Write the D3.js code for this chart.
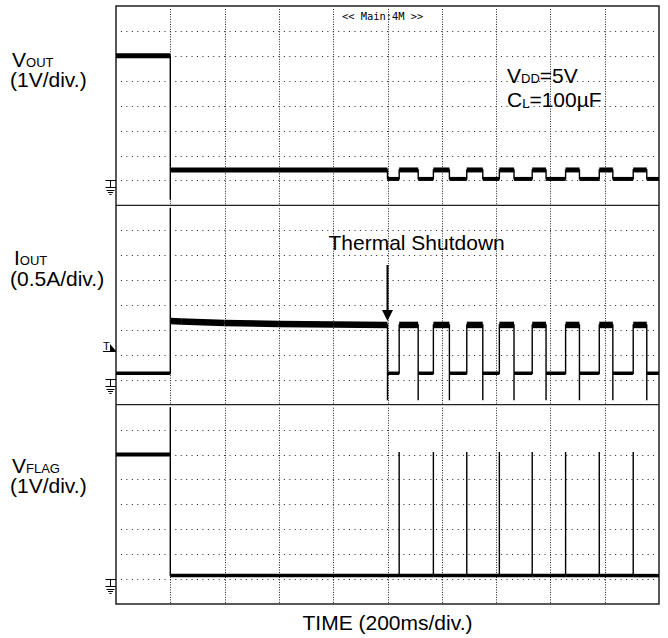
<!DOCTYPE html>
<html>
<head>
<meta charset="utf-8">
<script src="https://cdn.jsdelivr.net/npm/d3@7"></script>
<style>
  body { margin: 0; background: #fff; }
  svg { display: block; font-family: "Liberation Sans", Arial, sans-serif; }
</style>
</head>
<body>
<svg width="668" height="638"></svg>
<script>
// ---- data (read off the scope shot) -------------------------------------
// time axis: 10 div x 200ms
var timeTicks = d3.range(0, 2001, 200);
var tOn = 200, tShutdown = 1000, tEnd = 2000;
// thermal cycling edges after shutdown (ms)
var riseTimes = [1043, 1169, 1292, 1412, 1533, 1656, 1780, 1905];
var fallTimes = [1113, 1228, 1351, 1466, 1584, 1707, 1830, 1955];

// VOUT (V)
var voutHigh = 5.1, voutDip = -0.68, voutShort = 0.52, voutCycleOff = 0.16;
// IOUT (A)
var ioutIdle = 0.18, ioutPeak = 3.5, ioutUnder = -0.36, ioutCycleOn = 1.15;
var ioutShortT = [200, 240, 400, 600, 800, 1000];
var ioutShortV = [1.23, 1.22, 1.19, 1.17, 1.16, 1.15];
var ioutTrigger = 0.63;
// VFLAG (V)
var vflagHigh = 5.1, vflagPeak = 7.0, vflagLow = 0.24, vflagPulse = 5.2;

var labels = [
  { name: "V", sub: "OUT", unit: "(1V/div.)", perDiv: 1 },
  { name: "I", sub: "OUT", unit: "(0.5A/div.)", perDiv: 0.5 },
  { name: "V", sub: "FLAG", unit: "(1V/div.)", perDiv: 1 }
];

// ---- layout -------------------------------------------------------------
var svg = d3.select("svg"),
    left = 116, right = 659, plotTop = 6, plotBottom = 604,
    panelH = (plotBottom - plotTop) / 3, divY = panelH / 8,
    groundDiv = 7.1; // ground marker position, divs from panel top

var x = d3.scaleLinear().domain([0, tEnd]).range([left, right]);

var yScales = labels.map(function(p, i){
  var pt = plotTop + i*panelH;
  return d3.scaleLinear()
    .domain([-(8-groundDiv)*p.perDiv, groundDiv*p.perDiv])
    .range([pt + panelH, pt]);
});

// ---- traces -------------------------------------------------------------
var vout = [[0, voutHigh], [tOn, voutHigh], [tOn, voutDip], [tOn, voutShort],
            [tShutdown, voutShort], [tShutdown, voutCycleOff]];
riseTimes.forEach(function(t, i){
  vout.push([t, voutCycleOff], [t, voutShort], [fallTimes[i], voutShort], [fallTimes[i], voutCycleOff]);
});
vout.push([tEnd, voutCycleOff]);

var iout = [[0, ioutIdle], [tOn, ioutIdle], [tOn, ioutPeak]];
ioutShortT.forEach(function(t, i){ iout.push([t, ioutShortV[i]]); });
iout.push([tShutdown, ioutUnder], [tShutdown, ioutIdle]);
riseTimes.forEach(function(t, i){
  iout.push([t, ioutIdle], [t, ioutCycleOn], [fallTimes[i], ioutCycleOn], [fallTimes[i], ioutUnder], [fallTimes[i], ioutIdle]);
});
iout.push([tEnd, ioutIdle]);

var vflag = [[0, vflagHigh], [tOn, vflagHigh], [tOn, vflagPeak], [tOn, vflagLow]];
riseTimes.forEach(function(t){
  vflag.push([t, vflagLow], [t, vflagPulse], [t, vflagLow]);
});
vflag.push([tEnd, vflagLow]);

var traces = [
  { pts: vout,  hi: 5,   lo: 4,   split: 0.3 },
  { pts: iout,  hi: 6.5, lo: 3.5, split: 0.6 },
  { pts: vflag, hi: 4,   lo: 3.5, split: 2 }
];

// ---- grid ---------------------------------------------------------------
var grid = svg.append("g").attr("stroke", "#222").attr("stroke-width", 1);
labels.forEach(function(p, i){
  var pt = plotTop + i*panelH;
  d3.range(1, 8).forEach(function(k){
    var gy = Math.round(pt + k*divY) + 0.5;
    grid.append("line")
      .attr("x1", left + 5).attr("x2", right - 2)
      .attr("y1", gy).attr("y2", gy)
      .attr("stroke-dasharray", "1," + ((right-left)/100 - 1).toFixed(2));
  });
  timeTicks.slice(1, -1).forEach(function(t){
    var gx = Math.round(x(t)) + 0.5;
    grid.append("line")
      .attr("x1", gx).attr("x2", gx)
      .attr("y1", pt + 3).attr("y2", pt + panelH)
      .attr("stroke-dasharray", "1," + (divY/10 - 1).toFixed(2));
  });
});

// ---- frame --------------------------------------------------------------
var frame = svg.append("g").attr("stroke", "#222").attr("fill", "none");
frame.append("rect").attr("x", left).attr("y", plotTop)
  .attr("width", right - left).attr("height", plotBottom - plotTop).attr("stroke-width", 1.5);
[1, 2].forEach(function(i){
  frame.append("line").attr("x1", left).attr("x2", right)
    .attr("y1", plotTop + i*panelH).attr("y2", plotTop + i*panelH).attr("stroke-width", 1.3);
});

// ---- waveforms ----------------------------------------------------------
traces.forEach(function(tr, i){
  var y = yScales[i];
  var line = d3.line().x(function(d){ return x(d[0]); }).y(function(d){ return y(d[1]); });
  var g = svg.append("g").attr("fill", "none").attr("stroke", "#000");
  // noisy plateaus drawn as thick bands
  for (var k = 1; k < tr.pts.length; k++){
    var a = tr.pts[k-1], b = tr.pts[k];
    if (b[0] > a[0]){
      g.append("path").attr("d", line([a, b]))
        .attr("stroke-width", a[1] > tr.split ? tr.hi : tr.lo);
    }
  }
  g.append("path").attr("d", line(tr.pts)).attr("stroke-width", 1.4);
});

// ---- ground markers -----------------------------------------------------
yScales.forEach(function(y){
  var y0 = Math.round(y(0));
  var g = svg.append("g").attr("stroke", "#000").attr("stroke-width", 1)
    .attr("transform", "translate(0," + y0 + ")");
  g.append("path").attr("d",
    "M105.5,-2.5H116 M110.5,-2.5V4.5 M105.5,4.5H116 M106.5,7.5H114.5 M108,9.5H113 M109.5,11.5H111.5");
});

// trigger marker on IOUT
var ty = Math.round(yScales[1](ioutTrigger));
svg.append("text").attr("x", 103).attr("y", ty - 1)
  .attr("font-size", 11).text("T");
svg.append("line").attr("x1", 103).attr("x2", 116).attr("y1", ty + 0.5).attr("y2", ty + 0.5)
  .attr("stroke", "#000");
svg.append("path").attr("d", "M110," + (ty-7) + "L116," + ty + "L110," + ty + "Z").attr("fill", "#000");

// ---- texts --------------------------------------------------------------
svg.append("text").attr("x", 342).attr("y", 20)
  .attr("font-family", "DejaVu Sans Mono, monospace").attr("font-size", 10.4)
  .text("<< Main:4M >>");

var labelY = [[67, 87], [265, 286], [473, 493]];
labels.forEach(function(p, i){
  var t = svg.append("text").attr("x", p.name === "I" ? 14 : 12).attr("y", labelY[i][0]).attr("font-size", 21);
  t.append("tspan").text(p.name);
  t.append("tspan").attr("font-size", 13).text(p.sub);
  svg.append("text").attr("x", 10).attr("y", labelY[i][1]).attr("font-size", 21).text(p.unit);
});

var cond = svg.append("g").attr("font-size", 21);
var c1 = cond.append("text").attr("x", 507).attr("y", 83);
c1.append("tspan").text("V");
c1.append("tspan").attr("font-size", 13).text("DD");
c1.append("tspan").text("=5V");
var c2 = cond.append("text").attr("x", 507).attr("y", 107);
c2.append("tspan").text("C");
c2.append("tspan").attr("font-size", 13).attr("dy", 1).text("L");
c2.append("tspan").attr("dy", -1).text("=100µF");

// thermal shutdown annotation
var ax = x(tShutdown), tipY = yScales[1](ioutCycleOn) - 4;
svg.append("text").attr("x", ax - 59).attr("y", 250).attr("font-size", 21).text("Thermal Shutdown");
svg.append("line").attr("x1", ax).attr("x2", ax).attr("y1", 265).attr("y2", tipY - 8)
  .attr("stroke", "#000").attr("stroke-width", 2);
svg.append("path").attr("d", "M" + (ax-5.5) + "," + (tipY-11) + "L" + (ax+5.5) + "," + (tipY-11) + "L" + ax + "," + tipY + "Z")
  .attr("fill", "#000");

svg.append("text").attr("x", (left + right)/2).attr("y", 630)
  .attr("text-anchor", "middle").attr("font-size", 21).text("TIME (200ms/div.)");
</script>
</body>
</html>
